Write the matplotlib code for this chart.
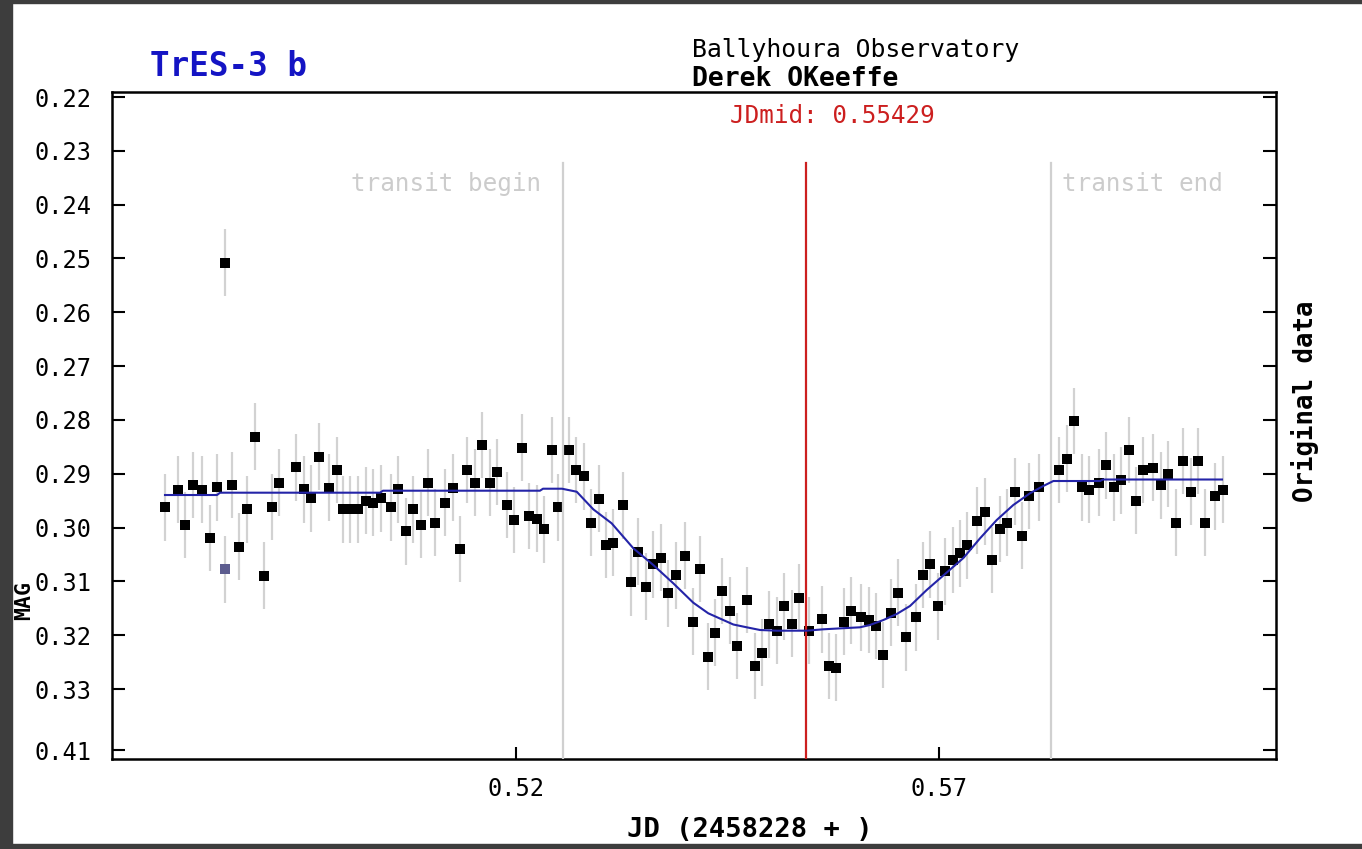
import matplotlib
matplotlib.use("Agg")
import matplotlib.pyplot as plt
from matplotlib.patches import Rectangle

# ---------------- data ----------------
jd = [0.47854, 0.48008, 0.48090, 0.48181, 0.48295, 0.48386, 0.48472, 0.48563,
      0.48649, 0.48732, 0.48823, 0.48914, 0.49023, 0.49118, 0.49204, 0.49407,
      0.49496, 0.49584, 0.49673, 0.49791, 0.49880, 0.49957, 0.50043, 0.50131,
      0.50228, 0.50314, 0.50402, 0.50520, 0.50610, 0.50697, 0.50783, 0.50874,
      0.50961, 0.51046, 0.51164, 0.51250, 0.51336, 0.51425, 0.51513, 0.51601,
      0.51687, 0.51778, 0.51891, 0.51982, 0.52071, 0.52151, 0.52245, 0.52331,
      0.52423, 0.52496, 0.52626, 0.52711, 0.52800, 0.52888, 0.52977, 0.53063,
      0.53149, 0.53267, 0.53355, 0.53443, 0.53532, 0.53621, 0.53709, 0.53793,
      0.53884, 0.54000, 0.54085, 0.54173, 0.54264, 0.54351, 0.54437, 0.54524,
      0.54614, 0.54731, 0.54820, 0.54908, 0.54992, 0.55083, 0.55169, 0.55260,
      0.55346, 0.55464, 0.55609, 0.55695, 0.55780, 0.55870, 0.55959, 0.56073,
      0.56164, 0.56252, 0.56339, 0.56427, 0.56515, 0.56602, 0.56720, 0.56810,
      0.56896, 0.56979, 0.57070, 0.57158, 0.57245, 0.57330, 0.57449, 0.57540,
      0.57626, 0.57712, 0.57803, 0.57894, 0.57977, 0.58063, 0.58181, 0.58417,
      0.58505, 0.58595, 0.58682, 0.58768, 0.58886, 0.58971, 0.59060, 0.59149,
      0.59237, 0.59323, 0.59410, 0.59528, 0.59616, 0.59705, 0.59794, 0.59881,
      0.59970, 0.60053, 0.60142, 0.60260, 0.60351]

mag = [0.29624, 0.29293, 0.29952, 0.29209, 0.29293, 0.30194, 0.29252, 0.25079,
       0.29209, 0.30356, 0.29661, 0.28312, 0.30891, 0.29618, 0.29166, 0.28880,
       0.29289, 0.29456, 0.28680, 0.29259, 0.28930, 0.29661, 0.29661, 0.29661,
       0.29503, 0.29538, 0.29456, 0.29624, 0.29289, 0.30073, 0.29661, 0.29952,
       0.29166, 0.29910, 0.29538, 0.29256, 0.30398, 0.28930, 0.29166, 0.28466,
       0.29166, 0.28968, 0.29581, 0.29860, 0.28516, 0.29785, 0.29832, 0.30031,
       0.28559, 0.29624, 0.28559, 0.28930, 0.29048, 0.29910, 0.29460, 0.30324,
       0.30281, 0.29585, 0.31017, 0.30449, 0.31099, 0.30686, 0.30562, 0.31222,
       0.30887, 0.30525, 0.31749, 0.30770, 0.32401, 0.31950, 0.31179, 0.31545,
       0.32201, 0.31346, 0.32572, 0.32325, 0.31796, 0.31916, 0.31465, 0.31786,
       0.31300, 0.31916, 0.31705, 0.32572, 0.32604, 0.31749, 0.31545, 0.31667,
       0.31718, 0.31829, 0.32368, 0.31582, 0.31210, 0.32039, 0.31667, 0.30881,
       0.30681, 0.31463, 0.30811, 0.30603, 0.30478, 0.30333, 0.29869, 0.29705,
       0.30603, 0.30027, 0.29910, 0.29336, 0.30153, 0.29414, 0.29252, 0.28930,
       0.28722, 0.28020, 0.29252, 0.29297, 0.29166, 0.28843, 0.29252, 0.29122,
       0.28559, 0.29501, 0.28930, 0.28884, 0.29215, 0.29005, 0.29910, 0.28763,
       0.29336, 0.28763, 0.29910, 0.29417, 0.29293]

mag_err = 0.0062

# second (highlighted) measurement
jd_flag = [0.48563]
mag_flag = [0.30776]

# transit model curve
model_jd = [0.47854, 0.48468, 0.48504, 0.50394, 0.50429, 0.52283, 0.52319,
            0.52543, 0.52717, 0.52913, 0.53130, 0.53386, 0.53622, 0.53858,
            0.54094, 0.54271, 0.54567, 0.54725, 0.54882, 0.55079, 0.55434,
            0.55630, 0.56063, 0.56181, 0.56339, 0.56497, 0.56654, 0.56851,
            0.57047, 0.57284, 0.57481, 0.57678, 0.57874, 0.58071, 0.58228,
            0.58347, 0.58898, 0.58934, 0.60339]
model_mag = [0.29395, 0.29395, 0.29352, 0.29352, 0.29315, 0.29315, 0.29278,
             0.29278, 0.29334, 0.29661, 0.29921, 0.30385, 0.30696, 0.31036,
             0.31396, 0.31593, 0.31801, 0.31853, 0.31903, 0.31916, 0.31916,
             0.31890, 0.31853, 0.31810, 0.31718, 0.31606, 0.31457, 0.31160,
             0.30891, 0.30566, 0.30200, 0.29860, 0.29581, 0.29363, 0.29228,
             0.29135, 0.29135, 0.29107, 0.29107]

jd_mid = 0.55429
transit_begin = 0.52555
transit_end = 0.58319

x_ticks = [0.52, 0.57]
x_ticklabels = ["0.52", "0.57"]
y_ticks = [0.22, 0.23, 0.24, 0.25, 0.26, 0.27, 0.28, 0.29, 0.30, 0.31, 0.32,
           0.33, 0.34133]
y_ticklabels = ["0.22", "0.23", "0.24", "0.25", "0.26", "0.27", "0.28",
                "0.29", "0.30", "0.31", "0.32", "0.33", "0.41"]

title_star = "TrES-3 b"
observatory = "Ballyhoura Observatory"
observer = "Derek OKeeffe"
mid_label = "JDmid: 0.55429"
x_label = "JD (2458228 + )"
y_label = "MAG"
right_label = "Original data"

# ---------------- drawing ----------------
W, H = 1362, 849
plt.rcParams['font.family'] = ['DejaVu Sans Mono']
fig = plt.figure(figsize=(W / 100, H / 100), dpi=100)
fig.patch.set_facecolor("white")

def fx(px):
    return px / W

def fy(py):
    return 1 - py / H

ax = fig.add_axes([fx(112), fy(759), fx(1276) - fx(112), fy(92) - fy(759)])
ax.set_xlim(0.47228, 0.60977)
ax.set_ylim(0.3430, 0.21907)

ax.errorbar(jd, mag, yerr=mag_err, fmt='none', ecolor='#d2d2d2',
            elinewidth=1.6, capsize=0, zorder=1)
ax.errorbar(jd_flag, mag_flag, yerr=mag_err, fmt='none', ecolor='#d2d2d2',
            elinewidth=1.6, capsize=0, zorder=1)
ax.plot(jd, mag, 's', color='black', ms=7, mew=0, zorder=3)
ax.plot(jd_flag, mag_flag, 's', color='#5c5c8e', ms=7, mew=0, zorder=3)
ax.plot(model_jd, model_mag, '-', color='#2424a8', lw=1.5, zorder=4)

vtop = (759 - 163) / (759 - 92)
ax.axvline(transit_begin, ymin=0, ymax=vtop, color='#d0d0d0', lw=1.6, zorder=3)
ax.axvline(transit_end, ymin=0, ymax=vtop, color='#d0d0d0', lw=1.6, zorder=3)
ax.axvline(jd_mid, ymin=0, ymax=vtop, color='#cc1f1f', lw=1.6, zorder=3)

ax.set_xticks(x_ticks)
ax.set_xticklabels(x_ticklabels)
ax.set_yticks(y_ticks)
ax.set_yticklabels(y_ticklabels)
ax.tick_params(axis='y', direction='in', length=9.5, width=1.5, left=True,
               right=True, labelsize=17, pad=15, colors='black')
ax.tick_params(axis='x', direction='in', length=9, width=1.5, bottom=True,
               top=False, labelsize=17, pad=13)
for s in ax.spines.values():
    s.set_linewidth(1.8)

# texts
fig.text(fx(150), fy(76), title_star, color='#1414c4', fontsize=23.5,
         fontweight='bold', va='baseline', ha='left')
fig.text(fx(692), fy(57), observatory, color='black', fontsize=17.8,
         va='baseline', ha='left')
fig.text(fx(692), fy(86), observer, color='black', fontsize=19,
         fontweight='bold', va='baseline', ha='left')
fig.text(fx(832), fy(123), mid_label, color='#cc1f1f', fontsize=17.5,
         va='baseline', ha='center')
fig.text(fx(446), fy(191), "transit begin", color='#cccccc', fontsize=17.5,
         va='baseline', ha='center')
fig.text(fx(1142), fy(191), "transit end", color='#cccccc', fontsize=17.5,
         va='baseline', ha='center')
fig.text(fx(750), fy(830), x_label, color='black', fontsize=19.5,
         fontweight='bold', va='center', ha='center')
fig.text(fx(24), fy(600), y_label, color='black', fontsize=15.5,
         fontweight='bold', va='center', ha='center', rotation=90)
fig.text(fx(1305), fy(401), right_label, color='black', fontsize=18.5,
         fontweight='bold', va='center', ha='center', rotation=90)

# dark frame edges of the screenshot
dark = '#3d3d3d'
fig.add_artist(Rectangle((0, 0), fx(12), 1, transform=fig.transFigure,
                         color=dark, zorder=10))
fig.add_artist(Rectangle((0, fy(3)), 1, 1 - fy(3), transform=fig.transFigure,
                         color=dark, zorder=10))
fig.add_artist(Rectangle((0, 0), 1, 1 - fy(5), transform=fig.transFigure,
                         color=dark, zorder=10))

fig.savefig("out.png", dpi=100, facecolor='white')
